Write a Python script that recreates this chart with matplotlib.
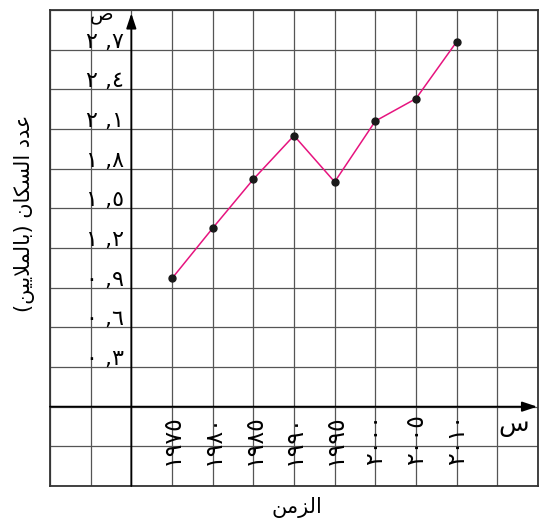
"""Population growth line chart on a square grid (Arabic labels)."""

import matplotlib

matplotlib.use("Agg")
import matplotlib.pyplot as plt

# data
years = [1975, 1980, 1985, 1990, 1995, 2000, 2005, 2010]
population = [0.97, 1.35, 1.72, 2.05, 1.70, 2.16, 2.33, 2.76]

year_labels = ["١٩٧٥", "١٩٨٠", "١٩٨٥", "١٩٩٠", "١٩٩٥", "٢٠٠٠", "٢٠٠٥", "٢٠١٠"]
y_tick_values = [0.3, 0.6, 0.9, 1.2, 1.5, 1.8, 2.1, 2.4, 2.7]
y_tick_labels = ["٠ ,٣", "٠ ,٦", "٠ ,٩", "١ ,٢", "١ ,٥", "١ ,٨", "٢ ,١", "٢ ,٤", "٢ ,٧"]

x_title = "الزمن"
y_title = "عدد السكان (بالملايين)"
x_axis_name = "س"
y_axis_name = "ص"

# matplotlib has no Arabic shaping, so map letters to presentation forms
# (iso, fin, ini, med are consecutive code points) and reverse for display.
FORMS = {
    "ا": (0xFE8D, 2), "ب": (0xFE8F, 4), "د": (0xFEA9, 2), "ز": (0xFEAF, 2),
    "س": (0xFEB1, 4), "ع": (0xFEC9, 4), "ك": (0xFED9, 4), "ل": (0xFEDD, 4),
    "م": (0xFEE1, 4), "ن": (0xFEE5, 4), "ي": (0xFEF1, 4), "لا": (0xFEFB, 2),
}


def shape_arabic(text):
    tokens = []
    i = 0
    while i < len(text):
        if text[i] == "ل" and i + 1 < len(text) and text[i + 1] == "ا":
            tokens.append("لا")
            i += 2
        else:
            tokens.append(text[i])
            i += 1
    out = []
    for k, t in enumerate(tokens):
        if t not in FORMS:
            out.append({"(": ")", ")": "("}.get(t, t))
            continue
        prev = tokens[k - 1] if k > 0 else None
        nxt = tokens[k + 1] if k + 1 < len(tokens) else None
        join_prev = prev in FORMS and FORMS[prev][1] == 4
        join_next = nxt in FORMS and FORMS[t][1] == 4
        base, _ = FORMS[t]
        if join_prev and join_next:
            idx = 3
        elif join_next:
            idx = 2
        elif join_prev:
            idx = 1
        else:
            idx = 0
        out.append(chr(base + idx))
    return "".join(reversed(out))


plt.rcParams["font.family"] = ["DejaVu Sans"]

W, H = 543, 528
fig = plt.figure(figsize=(W / 100, H / 100), dpi=100)
ax = fig.add_axes([50 / W, 1 - 486 / H, 488 / W, 476 / H])

ax.set_xlim(1960, 2020)
ax.set_ylim(-0.6, 3.0)
ax.set_xticks(range(1960, 2021, 5))
ax.set_yticks([round(-0.6 + 0.3 * k, 1) for k in range(13)])
ax.grid(True, color="#555555", linewidth=0.9)
ax.tick_params(length=0, labelbottom=False, labelleft=False)
for s in ax.spines.values():
    s.set_color("#333333")
    s.set_linewidth(1.3)

# axes with arrows
ax.annotate("", xy=(1970, 2.975), xytext=(1970, -0.6),
            arrowprops=dict(arrowstyle="-|>,head_length=0.9,head_width=0.3",
                            color="black", lw=1.3, shrinkA=0, shrinkB=0))
ax.annotate("", xy=(2019.9, 0), xytext=(1960, 0),
            arrowprops=dict(arrowstyle="-|>,head_length=0.9,head_width=0.3",
                            color="black", lw=1.3, shrinkA=0, shrinkB=0))

ax.plot(years, population, color="#E6147F", linewidth=1.1, zorder=3)
ax.plot(years, population, "o", color="#1a1a1a", markersize=5, zorder=4)

for v, lab in zip(y_tick_values, y_tick_labels):
    ax.text(1969.1, v + 0.015, lab, ha="right", va="baseline", fontsize=16)

for yr, lab in zip(years, year_labels):
    ax.text(yr, -0.25, lab, rotation=90, ha="center", va="center", fontsize=17)

ax.text(1966.3, 2.965, y_axis_name, ha="center", va="center", fontsize=14)
ax.text(2017.0, -0.14, x_axis_name, ha="center", va="center", fontsize=18)

fig.text(297 / W, 1 - 508 / H, shape_arabic(x_title), ha="center", va="center", fontsize=15)
fig.text(25 / W, 1 - 213 / H, shape_arabic(y_title), ha="center", va="center",
         rotation=90, fontsize=15)

fig.savefig("out.png", dpi=100, facecolor="white")
